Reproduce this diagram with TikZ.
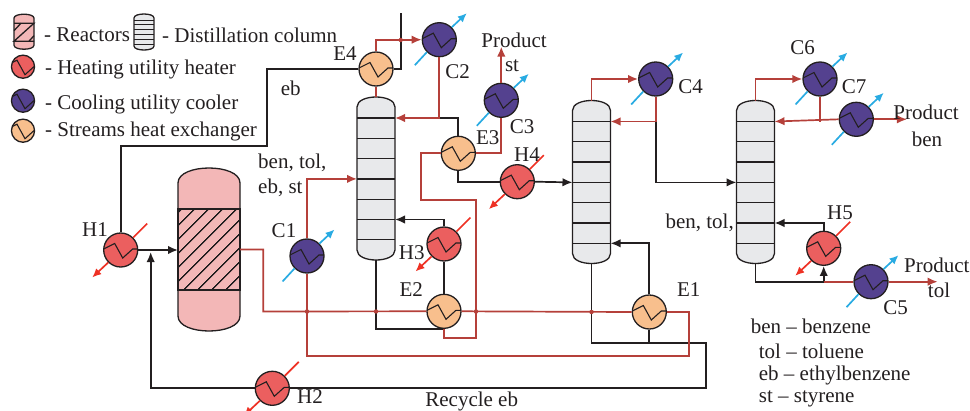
\documentclass[tikz,border=0pt]{standalone}
\usepackage{fontspec}
\setmainfont{Liberation Serif}
\usetikzlibrary{calc,arrows.meta,patterns.meta}
\definecolor{pipeblack}{HTML}{231F20}
\definecolor{pipered}{HTML}{B5403A}
\definecolor{hxorange}{HTML}{F8BF8D}
\definecolor{heatred}{HTML}{EB5F5F}
\definecolor{coolblue}{HTML}{54418F}
\definecolor{skyarrow}{HTML}{29ABE2}
\definecolor{hotarrow}{HTML}{EE3124}
\definecolor{reactpink}{HTML}{F3B7B7}
\definecolor{colgray}{HTML}{E8E9EB}
\tikzset{
  lab/.style={font=\fontsize{21}{24}\selectfont,text=pipeblack,inner sep=0pt},
  hxbox/.style={circle,draw=pipeblack,line width=1.3pt,minimum size=#1*34pt,inner sep=0pt,
    path picture={\draw[pipeblack,line width=1.1pt,shift={(path picture bounding box.center)},scale=#1]
      (-17pt,1pt)--(-6pt,6.5pt)--(2pt,-8pt)--(12pt,1pt)--(17pt,1pt);}},
  hxbox/.default=1,
  tankbox/.style={minimum width=38pt,minimum height=163pt,inner sep=0pt,outer sep=0pt},
  tank/.style={draw=pipeblack,line width=1.3pt},
  blackpipe/.style={draw=pipeblack,line width=1.7pt},
  redpipe/.style={draw=pipered,line width=1.7pt},
  blackflow/.style={blackpipe,-{Latex[length=10pt,width=8.5pt]}},
  redflow/.style={redpipe,-{Latex[length=10pt,width=8.5pt]}},
  coolline/.style={draw=skyarrow,line width=1.7pt},
  hotline/.style={draw=hotarrow,line width=1.7pt},
}
\begin{document}
\begin{tikzpicture}[x=1pt,y=-1pt]
  \useasboundingbox (0,0) rectangle (970,410);
  \node[tankbox](T1) at(376,178.5){};
  \node[tankbox](T2) at(591.5,182){};
  \node[tankbox](T3) at(755.5,182){};
  \node[tankbox,minimum width=62pt](R1) at(209,249.5){};
  \node[tankbox,minimum width=20pt,minimum height=35pt](LR) at(24,31.7){};
  \node[tankbox,minimum width=20pt,minimum height=36pt](LC) at(144,32){};
  \foreach \c/\h/\f in {T1/10/colgray,T2/10/colgray,T3/10/colgray,R1/15/reactpink,LR/4/reactpink,LC/4/colgray}{
    \draw[tank,fill=\f]($(\c.north west)+(0,\h)$)
      .. controls ($(\c.north west)+(0,-\h/3)$) and ($(\c.north east)+(0,-\h/3)$) .. ($(\c.north east)+(0,\h)$)
      -- ($(\c.south east)+(0,-\h)$)
      .. controls ($(\c.south east)+(0,\h/3)$) and ($(\c.south west)+(0,\h/3)$) .. ($(\c.south west)+(0,-\h)$) -- cycle;
  }
  \foreach \c in {T1,T2,T3}{
    \foreach \i in {0,...,6}{
      \draw[tank]($(\c.north west)+(0,21+20.3*\i)$)coordinate(\c w\i)--($(\c.north east)+(0,21+20.3*\i)$)coordinate(\c e\i);
    }
  }
  \foreach \i in {0,...,5}{
    \draw[pipeblack,line width=0.8pt]($(LC.north west)+(0,6+4.8*\i)$)--($(LC.north east)+(0,6+4.8*\i)$);
  }
  \path[pattern={Lines[angle=45,distance=10.5pt,line width=1.4pt]},pattern color=pipeblack]
    ($(R1.north west)+(0,41)$) rectangle ($(R1.south east)+(0,-41)$);
  \draw[tank]($(R1.north west)+(0,41)$) rectangle ($(R1.south east)+(0,-41)$);
  \draw[tank]($(LR.north west)+(0,9)$)--($(LR.north east)+(0,9)$)--($(LR.south west)+(0,-8)$)--($(LR.south east)+(0,-8)$);
  \draw[tank]($(LR.west)+(0,-1)$)--($(LR.north west)+(7,9)$) ($(LR.south east)+(-5,-8)$)--($(LR.east)+(0,4)$);

  \foreach \n/\x/\y in {E4/376/69,E3/458.3/153.3,E2/444/311.3,E1/649.3/312}{
    \node[hxbox,fill=hxorange](\n) at(\x,\y){};
  }
  \foreach \n/\x/\y in {C2/439.3/39.7,C3/501.3/100.3,C1/307/256,C4/655.7/79,C6/820/79,C7/856.3/119.3,C5/871/281.7}{
    \node[hxbox,fill=coolblue](\n) at(\x,\y){};
    \draw[coolline](\n.225)--++(-12,13);
    \draw[coolline,-{Latex[length=9pt,width=8pt]}](\n.45)--++(15,-14);
  }
  \foreach \n/\x/\y in {H1/120.7/250,H2/272.3/388.3,H3/444/244,H4/517.3/181.7,H5/823.7/248.3}{
    \node[hxbox,fill=heatred](\n) at(\x,\y){};
    \draw[hotline](\n.45)--++(14,-14);
    \draw[hotline,-{Latex[length=9pt,width=8pt]}](\n.225)--++(-16,15);
  }
  \node[hxbox=0.68,fill=heatred](LH) at(23,66.7){};
  \node[hxbox=0.68,fill=coolblue](LK) at(23,100.7){};
  \node[hxbox=0.68,fill=hxorange](LE) at(23,130.7){};

  \coordinate(Top) at(400.7,13);
  \coordinate(J2) at(C2.south |- T1e0);
  \coordinate(J4) at(C4.south |- T2e0);
  \coordinate(J6) at(C6.south |- T3e0);
  \coordinate(JB) at(T3.south |- C5.west);
  \coordinate(JH) at(H5.south |- C5.west);
  \draw[blackpipe](E4.east)-|(Top);
  \draw[blackpipe](E4.west)--(266.7,69)--(266.7,146)-|(H1.north);
  \draw[blackflow](H1.east)--(R1.west |- H1.east);
  \draw[blackflow](H2.west)-|(150.7,252);
  \draw[blackpipe](H2.east)--(705.7,388.3)--(705.7,343.3)-|(T2.south);
  \draw[blackpipe](E1.south)--(E1.south |- 0,343.3);
  \draw[blackflow](E1.north)|-(T2e6);
  \draw[blackpipe](T1.south)|-(E2.south);
  \draw[blackpipe](E2.north)--(H3.south);
  \draw[blackflow](H3.north)|-(T1e5);
  \draw[blackpipe](J2)-|(E3.north);
  \draw[blackpipe](E3.south)|-(H4.west);
  \draw[blackflow](H4.east)--(T2w3);
  \draw[blackflow](J4)|-(T3w3);
  \draw[blackflow](H5.north)|-(T3e5);
  \draw[blackpipe](T3.south)--(JB)--(JH);
  \draw[blackflow](JH)--(H5.south);

  \draw[redpipe](E4.south)--(T1.north);
  \draw[redflow](E4.north)|-(C2.west);
  \draw[redflow](C2.south)|-(T1e0);
  \draw[redpipe](E3.east)-|(C3.south);
  \draw[redflow](C3.north)--++(0,-36);
  \draw[redpipe](E3.west)--(420.7,153.3)--(420.7,200)--(476,200)--(476,338)-|(E2.south);
  \draw[redpipe](R1.east)--(263.3,249.5)--(263.3,311.5)--(E2.west);
  \draw[redpipe](E2.east)--(E1.west);
  \draw[redpipe](E1.east)--(689.3,312)--(689.3,355.7)-|(C1.south);
  \draw[redflow](C1.north)|-(T1w3);
  \draw[redflow](T2.north)|-(C4.west);
  \draw[redflow](C4.south)|-(T2e0);
  \draw[redflow](T3.north)|-(C6.west);
  \draw[redpipe](C6.south)--(J6);
  \draw[redflow](C7.west)--(T3e0);
  \draw[redflow](C7.east)--++(33,0);
  \draw[redpipe](JH)--(C5.west);
  \draw[redflow](C5.east)--++(49,0);
  \foreach \x/\y in {400.7/40,307/311.5,376/311.5,476/311.5,591.5/312}{
    \fill[pipered](\x,\y) circle (2.2);
  }

  \foreach \n/\x/\y/\t in {E4/345/54/E4,C2/457.7/71.7/C2,C3/522/127/C3,E3/487.7/137.7/E3,H4/527/155/H4,
    C1/284/230.7/C1,H1/95/230/H1,H3/411.7/252.7/H3,E2/411.3/290/E2,E1/688.7/290/E1,H2/310/397/H2,
    C4/690.7/86.7/C4,C6/802.7/48/C6,C7/854/86.7/C7,H5/840/213/H5,C5/895.7/308/C5,
    Eb/290.7/88/eb,Pst/514/40.7/Product,St/512/66/st,Pben/926/112.7/Product,Ben/927/139/ben,
    Tol/939/290/tol,Rec/471.7/401/Recycle eb}{
    \node[lab](L\n) at(\x,\y){\t};
  }
  \node[lab,anchor=west](LFa) at(258,163){ben, tol,};
  \node[lab,anchor=west](LFb) at(258,188){eb, st};
  \node[lab,anchor=east](LFc) at(734,222.7){ben, tol,};
  \node[lab,anchor=west](Ptol) at(904,265){Product};
  \foreach \n/\x/\y/\t in {Ra/44/35/- Reactors,Rb/162/35/- Distillation column,Rc/45/69/- Heating utility heater,
    Rd/45/104/- Cooling utility cooler,Re/45/131/- Streams heat exchanger,
    Ka/750.7/326.7/ben – benzene,Kb/758.7/351/tol – toluene,Kc/758.7/375/eb – ethylbenzene,Kd/758.7/399/st – styrene}{
    \node[lab,anchor=west](\n) at(\x,\y){\t};
  }
\end{tikzpicture}
\end{document}
